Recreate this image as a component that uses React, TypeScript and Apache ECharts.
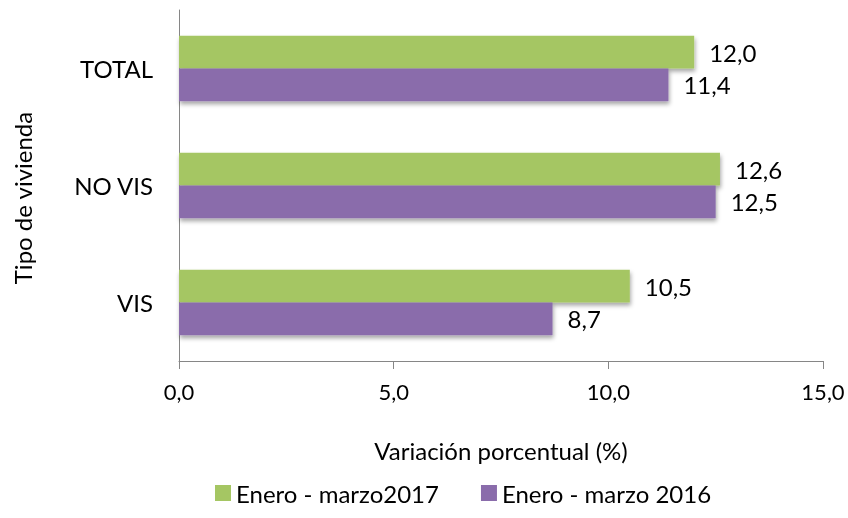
import React, { useEffect, useRef } from "react";
import * as echarts from "echarts";

const categories = ["TOTAL", "NO VIS", "VIS"];
const series2017 = [12.0, 12.6, 10.5];
const series2016 = [11.4, 12.5, 8.7];
const seriesNames = ["Enero - marzo2017", "Enero - marzo 2016"];
const xTicks = { min: 0, max: 15, interval: 5 };

const FONT = "Lato";
const FS = 24;
const fmt = (v: number) => v.toFixed(1).replace(".", ",");

export default function App() {
  const ref = useRef<HTMLDivElement>(null);
  useEffect(() => {
    if (!ref.current) return;
    document.body.style.margin = "0";
    const chart = echarts.init(ref.current, undefined, { renderer: "svg" });
    const shadow = {
      shadowColor: "rgba(0,0,0,0.35)",
      shadowBlur: 4,
      shadowOffsetX: 1,
      shadowOffsetY: 3,
    };
    const label = {
      show: true,
      position: "right",
      distance: 15,
      fontFamily: FONT,
      fontSize: FS,
      color: "#000",
      formatter: (p: any) => fmt(p.value),
    };
    chart.setOption({
      animation: false,
      textStyle: { fontFamily: FONT },
      grid: { left: 179, right: 25, top: 10, bottom: 157, containLabel: false },
      legend: {
        data: seriesNames,
        bottom: 8,
        left: 210,
        icon: "rect",
        itemWidth: 16,
        itemHeight: 16,
        itemGap: 42,
        textStyle: { fontFamily: FONT, fontSize: FS, color: "#000" },
      },
      xAxis: {
        type: "value",
        min: xTicks.min,
        max: xTicks.max,
        interval: xTicks.interval,
        name: "Variación porcentual (%)",
        nameLocation: "middle",
        nameGap: 77,
        nameTextStyle: { fontFamily: FONT, fontSize: FS, color: "#000" },
        axisLine: { show: true, lineStyle: { color: "#868686", width: 1 } },
        axisTick: { show: true, length: 8, lineStyle: { color: "#868686" } },
        axisLabel: {
          margin: 19,
          fontFamily: FONT,
          fontSize: 22,
          color: "#000",
          formatter: (v: number) => fmt(v),
        },
        splitLine: { show: false },
      },
      yAxis: {
        type: "category",
        data: categories,
        inverse: true,
        axisLine: { show: true, lineStyle: { color: "#868686", width: 1 } },
        axisTick: { show: false },
        axisLabel: { margin: 26, fontFamily: FONT, fontSize: FS, color: "#000" },
      },
      graphic: [
        {
          type: "text",
          x: 22,
          y: 198,
          rotation: Math.PI / 2,
          style: {
            text: "Tipo de vivienda",
            fontFamily: FONT,
            fontSize: FS,
            fill: "#000",
            align: "center",
            verticalAlign: "middle",
          },
        },
      ],
      series: [
        {
          name: seriesNames[0],
          type: "bar",
          data: series2017,
          barGap: "0%",
          barCategoryGap: "44%",
          itemStyle: { color: "#A5C663", ...shadow },
          label,
        },
        {
          name: seriesNames[1],
          type: "bar",
          data: series2016,
          barGap: "0%",
          barCategoryGap: "44%",
          itemStyle: { color: "#8A6CAB", ...shadow },
          label,
        },
      ],
    });
    return () => chart.dispose();
  }, []);
  return (
    <div
      ref={ref}
      style={{ position: "fixed", left: 0, top: 0, width: 848, height: 518 }}
    />
  );
}
